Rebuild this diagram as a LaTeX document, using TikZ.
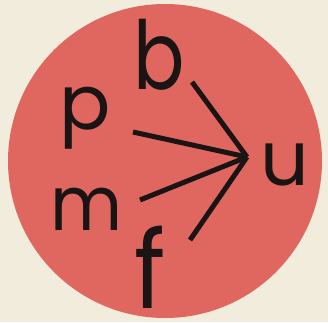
\documentclass[tikz,border=0pt]{standalone}
\usepackage{fontspec}
\setmainfont{Poppins}
\usetikzlibrary{positioning}
\definecolor{paper}{HTML}{F2ECDC}
\definecolor{disc}{HTML}{E0675F}
\definecolor{ink}{HTML}{1A1414}

\begin{document}
\begin{tikzpicture}[
  x=1pt, y=1pt,
  letter/.style={text=ink, inner sep=0pt, anchor=base west, font=\fontsize{76}{76}\selectfont},
  ray/.style={draw=ink, line width=5pt}
]
\fill[paper] (0,0) rectangle (328,322);
\useasboundingbox (0,0) rectangle (328,322);
\fill[disc] (165,161) circle (157);
\node[letter, yscale=1.25] (b) at (133,233) {b};
\node[letter] (p) at (59,193) {p};
\node[letter, xscale=0.92] (m) at (50,92) {m};
\node[letter, xscale=1.25, yscale=1.42] (f) at (134,14) {f};
\node[letter] (u) at (260,137) {u};
\coordinate (hub) at (247,165);
\coordinate (bs) at (192,240);
\coordinate (ps) at (133,190);
\coordinate (ms) at (140,122);
\coordinate (fs) at (190,82);
\draw[ray] (bs) -- (hub);
\draw[ray] (ps) -- (hub);
\draw[ray] (ms) -- (hub);
\draw[ray] (fs) -- (hub);
\end{tikzpicture}
\end{document}
